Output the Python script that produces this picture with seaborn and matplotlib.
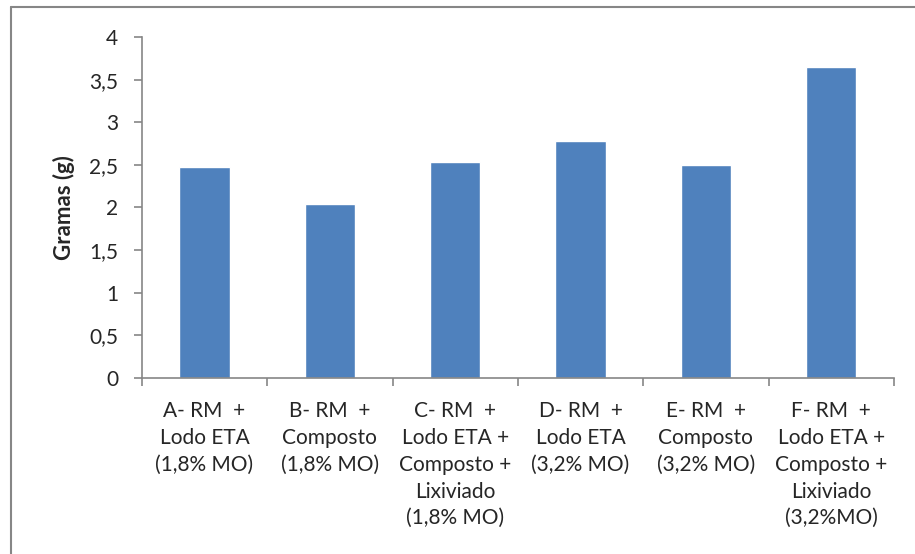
import pandas as pd
import seaborn as sns
import matplotlib.pyplot as plt
from matplotlib.lines import Line2D
from matplotlib.ticker import FixedLocator, FuncFormatter

# Dados
tratamentos = [
    "A- RM  +\nLodo ETA\n(1,8% MO)",
    "B- RM  +\nComposto\n(1,8% MO)",
    "C- RM  +\nLodo ETA +\nComposto +\nLixiviado\n(1,8% MO)",
    "D- RM  +\nLodo ETA\n(3,2% MO)",
    "E- RM  +\nComposto\n(3,2% MO)",
    "F- RM  +\nLodo ETA +\nComposto +\nLixiviado\n(3,2%MO)",
]
gramas = [2.48, 2.04, 2.53, 2.78, 2.50, 3.65]
y_ticks = [0, 0.5, 1, 1.5, 2, 2.5, 3, 3.5, 4]

df = pd.DataFrame({"tratamento": tratamentos, "gramas": gramas})

sns.set_style("white")
plt.rcParams["font.family"] = ["Lato", "DejaVu Sans"]

fig = plt.figure(figsize=(9.15, 5.54), dpi=100)
ax = fig.add_axes([0.155, 0.318, 0.822, 0.615])

sns.barplot(data=df, x="tratamento", y="gramas", color="#4F81BD",
            saturation=1, width=0.4, ax=ax)

ax.set_ylim(0, 4)
ax.set_xlim(-0.5, len(tratamentos) - 0.5)
ax.set_yticks(y_ticks)
ax.yaxis.set_major_formatter(FuncFormatter(lambda v, p: f"{v:g}".replace(".", ",")))
ax.xaxis.set_minor_locator(FixedLocator([i - 0.5 for i in range(len(tratamentos) + 1)]))

ax.tick_params(axis="y", which="major", direction="out", length=6, width=1.2,
               color="#868686", labelsize=15, pad=11, left=True)
ax.tick_params(axis="x", which="major", length=0, labelsize=15, pad=17)
ax.tick_params(axis="x", which="minor", direction="out", length=6, width=1.2,
               color="#868686", bottom=True)
for lbl in ax.get_xticklabels():
    lbl.set_linespacing(1.42)

for s in ["top", "right"]:
    ax.spines[s].set_visible(False)
for s in ["left", "bottom"]:
    ax.spines[s].set_color("#868686")
    ax.spines[s].set_linewidth(1.2)

ax.set_xlabel("")
ax.set_ylabel("Gramas (g)", fontsize=16, fontweight="bold", labelpad=10)

# Borda do gráfico (só esquerda e topo aparecem)
x0, y0 = 11 / 915, 1 - 7 / 554
fig.add_artist(Line2D([x0, x0], [0, y0], transform=fig.transFigure,
                      color="#868686", linewidth=1.5))
fig.add_artist(Line2D([x0, 1], [y0, y0], transform=fig.transFigure,
                      color="#868686", linewidth=1.5))

fig.savefig("out.png", dpi=100)
